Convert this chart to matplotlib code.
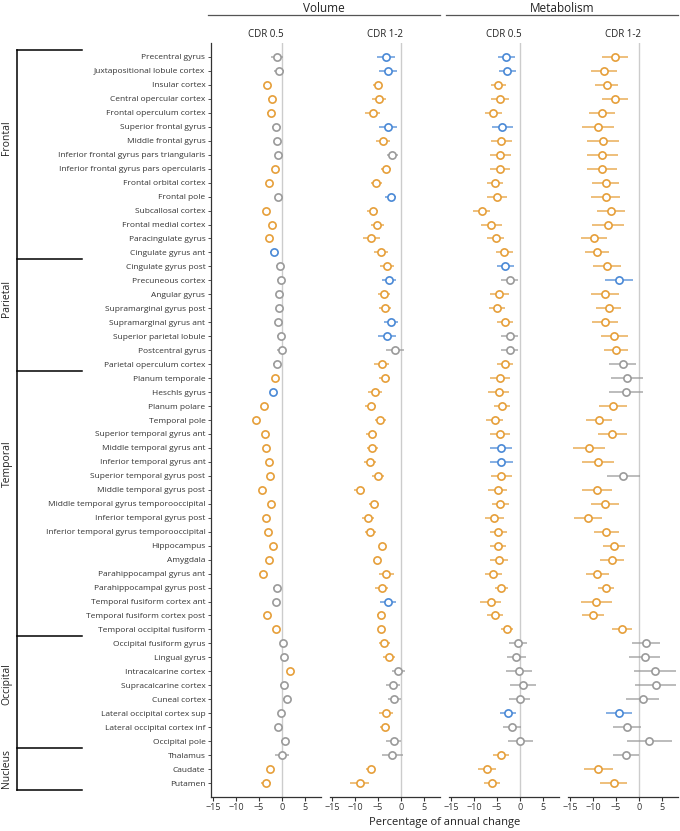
"""
Annual percentage change per region: volume and metabolism, CDR 0.5 vs CDR 1-2.
Forest-style dot plot with CI bars, grouped by lobe.
"""

import matplotlib
matplotlib.use("Agg")
import matplotlib.pyplot as plt
import matplotlib.transforms as mtransforms
from matplotlib.lines import Line2D

plt.rcParams['font.family'] = ['Open Sans', 'DejaVu Sans']

# ---- data ---------------------------------------------------------------
regions = [
    "Precentral gyrus", "Juxtapositional lobule cortex", "Insular cortex",
    "Central opercular cortex", "Frontal operculum cortex", "Superior frontal gyrus",
    "Middle frontal gyrus", "Inferior frontal gyrus pars triangularis",
    "Inferior frontal gyrus pars opercularis", "Frontal orbital cortex", "Frontal pole",
    "Subcallosal cortex", "Frontal medial cortex", "Paracingulate gyrus",
    "Cingulate gyrus ant",
    "Cingulate gyrus post", "Precuneous cortex", "Angular gyrus",
    "Supramarginal gyrus post", "Supramarginal gyrus ant", "Superior parietal lobule",
    "Postcentral gyrus", "Parietal operculum cortex",
    "Planum temporale", "Heschls gyrus", "Planum polare", "Temporal pole",
    "Superior temporal gyrus ant", "Middle temporal gyrus ant", "Inferior temporal gyrus ant",
    "Superior temporal gyrus post", "Middle temporal gyrus post",
    "Middle temporal gyrus temporooccipital", "Inferior temporal gyrus post",
    "Inferior temporal gyrus temporooccipital", "Hippocampus", "Amygdala",
    "Parahippocampal gyrus ant", "Parahippocampal gyrus post",
    "Temporal fusiform cortex ant", "Temporal fusiform cortex post",
    "Temporal occipital fusiform",
    "Occipital fusiform gyrus", "Lingual gyrus", "Intracalcarine cortex",
    "Supracalcarine cortex", "Cuneal cortex", "Lateral occipital cortex sup",
    "Lateral occipital cortex inf", "Occipital pole",
    "Thalamus", "Caudate", "Putamen",
]

lobes = ["Frontal", "Parietal", "Temporal", "Occipital", "Nucleus"]
lobe_sizes = [15, 8, 19, 8, 3]

panel_groups = ["Volume", "Metabolism"]
panel_titles = ["CDR 0.5", "CDR 1-2", "CDR 0.5", "CDR 1-2"]

# estimates (% annual change) and CI half widths
vol05_est = [-1.1, -0.65, -3.2, -2.25, -2.5, -1.3, -1.1, -1.0, -1.45, -2.9, -1.0, -3.4, -2.3,
             -2.75, -1.8, -0.45, -0.3, -0.7, -0.7, -0.8, -0.3, -0.1, -1.15, -1.65, -1.95,
             -4.0, -5.6, -3.7, -3.4, -2.9, -2.7, -4.4, -2.45, -3.5, -3.1, -1.95, -2.75,
             -4.2, -1.15, -1.25, -3.25, -1.25, 0.15, 0.35, 1.75, 0.45, 1.1, -0.15, -0.8,
             0.6, 0.05, -2.55, -3.5]
vol05_ci = [1.3, 1.1, 0.5, 0.8, 0.8, 1.0, 0.5, 0.5, 0.5, 0.5, 0.5, 0.5, 0.6, 0.8, 0.8, 0.8,
            0.8, 0.6, 0.6, 0.6, 0.9, 1.0, 0.8, 0.5, 0.5, 0.6, 0.5, 0.5, 0.6, 0.6, 0.6, 0.5,
            0.6, 0.6, 0.6, 0.5, 0.6, 0.9, 0.8, 0.8, 0.6, 0.6, 0.6, 0.6, 0.6, 0.9, 0.9, 0.6,
            0.6, 0.9, 1.5, 0.6, 1.1]
# o = orange, b = blue, g = grey; one string per lobe
vol05_sig = ["ggooogggoogooob", "gggggggg", "ob" + "o" * 13 + "ggoo", "ggoggggg", "goo"]

vol12_est = [-3.3, -2.9, -5.1, -4.8, -6.2, -2.9, -4.0, -1.95, -3.3, -5.4, -2.25, -6.15, -5.2,
             -6.45, -4.35, -3.1, -2.6, -3.8, -3.6, -2.2, -3.05, -1.3, -4.2, -3.6, -5.7,
             -6.65, -4.55, -6.4, -6.3, -6.8, -5.1, -9.0, -5.8, -7.25, -6.75, -4.15, -5.15,
             -3.2, -4.2, -2.9, -4.4, -4.3, -3.7, -2.55, -0.65, -1.75, -1.45, -3.25, -3.5,
             -1.65, -1.95, -6.65, -9.0]
vol12_ci = [2.0, 2.0, 1.0, 1.55, 1.7, 2.0, 1.5, 1.2, 1.1, 1.2, 1.2, 1.2, 1.4, 1.8, 1.6, 1.5,
            1.5, 1.3, 1.3, 1.5, 1.9, 2.0, 1.6, 1.2, 1.6, 1.3, 1.2, 1.2, 1.2, 1.3, 1.3, 1.2,
            1.1, 1.3, 1.2, 0.7, 0.8, 1.7, 1.4, 1.7, 0.9, 0.8, 1.2, 1.3, 1.4, 1.5, 1.5, 1.5,
            1.1, 1.7, 2.3, 0.9, 2.0]
vol12_sig = ["bbooobogooboooo", "oboobbgo", "o" * 16 + "boo", "oogggoog", "goo"]

met05_est = [-3.0, -2.75, -4.7, -4.35, -5.8, -3.85, -4.05, -4.35, -4.35, -5.5, -5.0, -8.3,
             -6.3, -5.3, -3.4, -3.2, -2.25, -4.5, -5.0, -3.3, -2.3, -2.25, -3.3, -4.35,
             -4.65, -3.9, -5.5, -4.35, -4.1, -4.05, -4.05, -4.9, -4.3, -5.6, -4.7, -4.75,
             -4.55, -5.8, -4.05, -6.4, -5.45, -2.8, -0.45, -0.8, -0.3, 0.65, -0.05, -2.6,
             -1.75, 0.0, -4.15, -7.25, -6.15]
met05_ci = [1.85, 1.9, 1.6, 1.9, 1.85, 2.3, 2.3, 2.3, 2.15, 1.8, 2.1, 1.85, 2.3, 1.9, 1.8,
            1.9, 1.9, 2.0, 1.8, 1.8, 1.9, 1.8, 1.8, 2.2, 2.3, 1.8, 1.85, 2.1, 2.4, 2.4, 2.2,
            2.1, 1.9, 2.0, 1.8, 1.7, 1.9, 1.8, 1.4, 2.3, 1.7, 1.3, 2.0, 2.0, 2.8, 2.8, 2.3,
            1.7, 1.9, 2.7, 1.7, 2.0, 1.8]
met05_sig = ["bbooob" + "o" * 9, "bgoooggo", "ooooo" + "bb" + "o" * 12, "gggggbgg", "ooo"]

met12_est = [-5.3, -7.6, -7.0, -5.3, -8.0, -8.85, -7.8, -8.0, -8.0, -7.3, -7.2, -6.1, -6.75,
             -9.85, -9.2, -6.95, -4.4, -7.45, -6.65, -7.45, -5.35, -5.05, -3.6, -2.7, -2.9,
             -5.65, -8.75, -5.8, -10.95, -9.0, -3.4, -9.1, -7.4, -11.2, -7.1, -5.45, -5.8,
             -9.05, -7.2, -9.3, -10.0, -3.7, 1.45, 1.25, 3.5, 3.6, 0.8, -4.35, -2.6, 2.25,
             -2.9, -8.85, -5.5]
met12_ci = [2.8, 2.8, 2.5, 2.85, 2.8, 3.45, 3.45, 3.4, 3.3, 2.9, 3.15, 3.1, 3.55, 2.8, 2.6,
            3.0, 3.05, 3.1, 2.8, 2.8, 2.9, 2.6, 2.9, 3.45, 3.65, 3.0, 2.8, 3.2, 3.5, 3.5,
            3.6, 3.3, 2.95, 3.05, 2.8, 2.3, 2.6, 2.5, 1.8, 3.4, 2.4, 2.1, 3.1, 3.35, 4.6,
            4.5, 3.6, 2.9, 3.05, 4.8, 2.8, 3.15, 2.9]
met12_sig = ["o" * 15, "obooooog", "gg" + "ooooo" + "g" + "o" * 11, "gggggbgg", "goo"]

SIG_COLORS = {'o': '#E69F3A', 'b': '#4A89D6', 'g': '#9A9A9A'}

# ---- layout (pixels of a 680x831 canvas) -------------------------------
W, H = 680, 831
XLIM = (-15.45, 8.45)
PANEL_LEFT = [211, 330, 449, 568]
PANEL_W = 110
AX_TOP, AX_BOT = 43, 797


def flatten_sig(chunks):
    """Join the per-lobe colour codes into one per-region list."""
    out = []
    for chunk, size in zip(chunks, lobe_sizes):
        assert len(chunk) == size, (chunk, size)
        out.extend(chunk)
    return out


def draw_panel(ax, est, ci, sig, title, show_labels):
    n = len(est)
    y = list(range(n))
    ax.axvline(0, color='#cccccc', lw=1.0, zorder=0)
    for i in range(n):
        c = SIG_COLORS[sig[i]]
        ax.plot([est[i] - ci[i], est[i] + ci[i]], [y[i], y[i]], color=c, lw=1.1,
                alpha=0.85, solid_capstyle='butt', zorder=2)
        ax.plot(est[i], y[i], 'o', ms=5.2, mfc='white', mec=c, mew=1.2, zorder=3)

    ax.set_xlim(*XLIM)
    ax.set_ylim(n, -1)
    ax.set_xticks([-15, -10, -5, 0, 5])
    ax.set_xticklabels(['\u221215', '\u221210', '\u22125', '0', '5'])
    ax.tick_params(axis='x', labelsize=6.5, length=3, width=0.8, pad=1.5,
                   colors='#333333')
    for s in ['top', 'right']:
        ax.spines[s].set_visible(False)
    ax.spines['bottom'].set_color('#333333')
    ax.spines['bottom'].set_linewidth(0.9)
    if show_labels:
        ax.set_yticks(y)
        ax.set_yticklabels(regions)
        ax.tick_params(axis='y', labelsize=6, length=2.5, width=0.6, pad=1.5,
                       colors='#333333')
        ax.spines['left'].set_color('#333333')
        ax.spines['left'].set_linewidth(0.9)
    else:
        ax.set_yticks([])
        ax.spines['left'].set_visible(False)
    ax.set_title(title, fontsize=7, pad=4, color='#222222')


def main():
    fig = plt.figure(figsize=(W / 100, H / 100), dpi=100)

    panels = [(vol05_est, vol05_ci, vol05_sig), (vol12_est, vol12_ci, vol12_sig),
              (met05_est, met05_ci, met05_sig), (met12_est, met12_ci, met12_sig)]
    axes = []
    for k, (est, ci, sig) in enumerate(panels):
        rect = [PANEL_LEFT[k] / W, 1 - AX_BOT / H, PANEL_W / W, (AX_BOT - AX_TOP) / H]
        ax = fig.add_axes(rect)
        draw_panel(ax, est, ci, flatten_sig(sig), panel_titles[k], show_labels=(k == 0))
        axes.append(ax)

    # Volume / Metabolism headers with rule beneath
    for g, name in enumerate(panel_groups):
        x0 = (PANEL_LEFT[2 * g] - 3) / W
        x1 = (PANEL_LEFT[2 * g + 1] + PANEL_W) / W
        fig.text((x0 + x1) / 2, 1 - 8 / H, name, ha='center', va='center',
                 fontsize=8.5, color='#222222')
        fig.add_artist(Line2D([x0, x1], [1 - 15 / H, 1 - 15 / H], color='#555555',
                              lw=0.9, transform=fig.transFigure))

    fig.text((PANEL_LEFT[0] + PANEL_LEFT[3] + PANEL_W) / 2 / W, 1 - 823 / H,
             'Percentage of annual change', ha='center', va='center', fontsize=8,
             color='#222222')

    # lobe brackets on the far left
    ax0 = axes[0]
    trans = mtransforms.blended_transform_factory(fig.transFigure, ax0.transData)
    bx, bx_end = 17 / W, 82 / W
    bounds = [-0.5]
    for s in lobe_sizes:
        bounds.append(bounds[-1] + s)
    ax0.add_line(Line2D([bx, bx], [bounds[0], bounds[-1]], color='black', lw=1.1,
                        transform=trans, clip_on=False))
    for b in bounds:
        ax0.add_line(Line2D([bx, bx_end], [b, b], color='black', lw=1.1,
                            transform=trans, clip_on=False))
    label_rows = [5.8, 17.3, 29.1, 44.9, 50.95]
    for name, yr in zip(lobes, label_rows):
        ax0.text(7 / W, yr, name, rotation=90, ha='center', va='center', fontsize=7.5,
                 color='#222222', transform=trans)

    fig.savefig('out.png', dpi=100)
    plt.close(fig)


if __name__ == "__main__":
    main()
